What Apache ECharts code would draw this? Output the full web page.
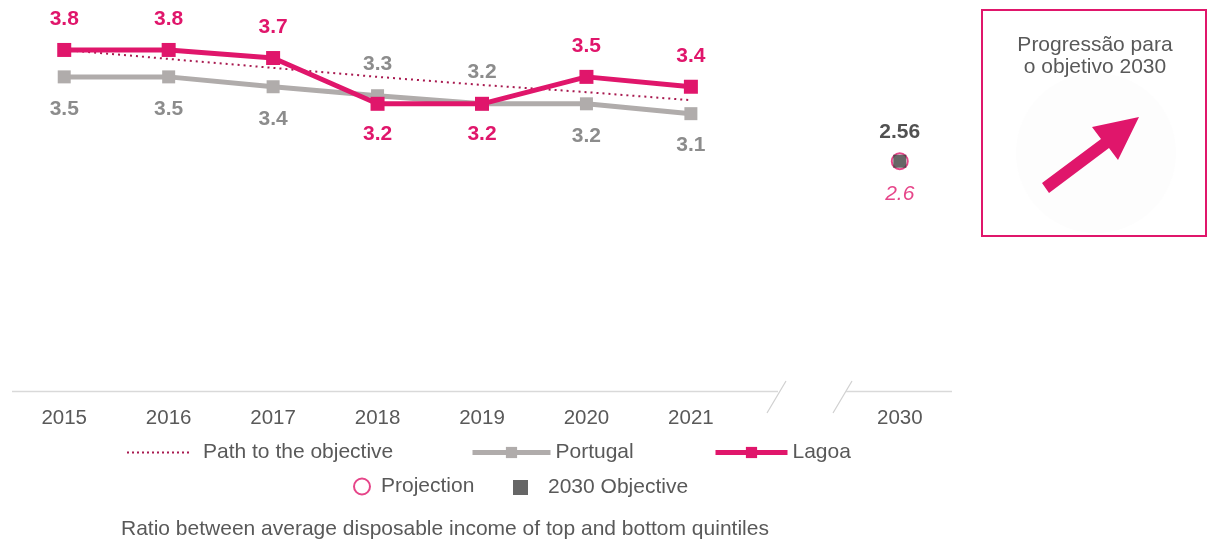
<!DOCTYPE html>
<html>
<head>
<meta charset="utf-8">
<script src="https://cdn.jsdelivr.net/npm/echarts@6/dist/echarts.min.js"></script>
<style>
html,body{margin:0;padding:0;background:#fff;}
#chart{width:1208px;height:545px;}
</style>
</head>
<body>
<div id="chart"></div>
<script>
// ---- data ----
const categories = ['2015','2016','2017','2018','2019','2020','2021','','2030'];
const pathToObjective = [3.80, 3.70, 3.60, 3.50, 3.41, 3.33, 3.24, null, null];
const portugal = [3.50, 3.50, 3.39, 3.29, 3.20, 3.20, 3.09, null, null];
const lagoa = [3.80, 3.80, 3.71, 3.20, 3.20, 3.50, 3.39, null, null];
const projection = [null, null, null, null, null, null, null, null, 2.56];
const objective2030 = [null, null, null, null, null, null, null, null, 2.56];
const caption = 'Ratio between average disposable income of top and bottom quintiles';
const boxTitle = ['Progressão para', 'o objetivo 2030'];

const PINK = '#e0166b';
const GRAY = '#b0acab';
const GRAYTXT = '#8c8c8c';
const TXT = '#595959';
const FONT = '"Liberation Sans", Arial, sans-serif';
const FS = 21;

// Lagoa label above when strictly higher; Portugal label above when higher or equal
function labelled(vals, other, abovePredicate) {
  return vals.map((v, i) => {
    if (v == null) return null;
    return { value: v, label: { position: abovePredicate(v, other[i]) ? 'top' : 'bottom' } };
  });
}

const chart = echarts.init(document.getElementById('chart'), null, { renderer: 'canvas' });

const legendText = { color: TXT, fontSize: FS, fontFamily: FONT };
const legendBase = { orient: 'horizontal', itemHeight: 14, selectedMode: false, padding: 0 };

const option = {
  animation: false,
  backgroundColor: '#fff',
  textStyle: { fontFamily: FONT },
  grid: { left: 12, right: 256, top: 32, bottom: 154, containLabel: false },
  xAxis: {
    type: 'category',
    data: categories,
    boundaryGap: true,
    axisLine: { show: false },
    axisTick: { show: false },
    axisLabel: { color: TXT, fontSize: 20.5, fontFamily: FONT, margin: 17 }
  },
  yAxis: { type: 'value', min: 0, max: 4, show: false, splitLine: { show: false } },
  legend: [
    Object.assign({}, legendBase, {
      data: ['Path to the objective'], left: 126, top: 442, itemWidth: 62,
      itemStyle: { color: 'rgba(0,0,0,0)', borderWidth: 0 },
      lineStyle: { width: 2, type: [2, 3], color: '#a8194f' },
      textStyle: Object.assign({}, legendText, { padding: [0, 0, 0, 9] })
    }),
    Object.assign({}, legendBase, {
      data: ['Portugal'], left: 470, top: 442, itemWidth: 78,
      lineStyle: { width: 5, color: GRAY },
      textStyle: legendText
    }),
    Object.assign({}, legendBase, {
      data: ['Lagoa'], left: 713, top: 442, itemWidth: 72,
      lineStyle: { width: 5, color: PINK },
      textStyle: legendText
    }),
    Object.assign({}, legendBase, {
      data: ['Projection'], left: 353, top: 476, itemWidth: 16, itemHeight: 16,
      textStyle: Object.assign({}, legendText, { padding: [0, 0, 0, 6] })
    }),
    Object.assign({}, legendBase, {
      data: ['2030 Objective'], left: 513, top: 477, itemWidth: 15, itemHeight: 15,
      textStyle: Object.assign({}, legendText, { padding: [0, 0, 0, 15] })
    })
  ],
  series: [
    {
      name: 'Path to the objective',
      type: 'line',
      data: pathToObjective,
      symbol: 'none',
      lineStyle: { color: '#a8194f', width: 2, type: [2, 4] },
      itemStyle: { color: '#a8194f' },
      z: 1
    },
    {
      name: 'Portugal',
      type: 'line',
      data: labelled(portugal, lagoa, (a, b) => a >= b),
      symbol: 'rect',
      symbolSize: 13,
      lineStyle: { color: GRAY, width: 5 },
      itemStyle: { color: GRAY },
      label: {
        show: true, distance: 15, color: GRAYTXT, fontSize: FS, fontWeight: 'bold', fontFamily: FONT,
        formatter: p => p.value.toFixed(1)
      },
      z: 2
    },
    {
      name: 'Lagoa',
      type: 'line',
      data: labelled(lagoa, portugal, (a, b) => a > b),
      symbol: 'rect',
      symbolSize: 14,
      lineStyle: { color: PINK, width: 5 },
      itemStyle: { color: PINK },
      label: {
        show: true, distance: 13, color: PINK, fontSize: FS, fontWeight: 'bold', fontFamily: FONT,
        formatter: p => p.value.toFixed(1)
      },
      z: 3
    },
    {
      name: 'Projection',
      type: 'scatter',
      data: projection,
      symbol: 'circle',
      symbolSize: 16,
      itemStyle: { color: '#fff', borderColor: PINK, borderWidth: 2 },
      label: {
        show: true, position: 'bottom', distance: 13, color: PINK, fontSize: FS, fontStyle: 'italic', fontFamily: FONT,
        formatter: p => p.value.toFixed(1)
      },
      z: 4
    },
    {
      name: '2030 Objective',
      type: 'scatter',
      data: objective2030,
      symbol: 'rect',
      symbolSize: 13,
      itemStyle: { color: '#404040' },
      label: {
        show: true, position: 'top', distance: 12, color: '#262626', fontSize: FS, fontWeight: 'bold', fontFamily: FONT,
        formatter: p => p.value.toFixed(2)
      },
      z: 5
    }
  ],
  graphic: [
    // broken x-axis line
    { type: 'line', shape: { x1: 12, y1: 391.5, x2: 778, y2: 391.5 }, style: { stroke: '#d9d9d9', lineWidth: 1.5 }, silent: true },
    { type: 'line', shape: { x1: 767, y1: 413, x2: 786, y2: 381 }, style: { stroke: '#d0d0d0', lineWidth: 1.2 }, silent: true },
    { type: 'line', shape: { x1: 833, y1: 413, x2: 852, y2: 381 }, style: { stroke: '#d0d0d0', lineWidth: 1.2 }, silent: true },
    { type: 'line', shape: { x1: 846, y1: 391.5, x2: 952, y2: 391.5 }, style: { stroke: '#d9d9d9', lineWidth: 1.5 }, silent: true },
    // caption
    { type: 'text', left: 121, top: 519, style: { text: caption, fill: TXT, font: FS + 'px ' + FONT }, silent: true },
    // progress box
    { type: 'rect', shape: { x: 982, y: 10, width: 224, height: 226 }, style: { fill: '#fff', stroke: PINK, lineWidth: 2 }, silent: true },
    { type: 'circle', shape: { cx: 1096, cy: 153, r: 80 }, style: { fill: '#fdfdfd' }, silent: true },
    { type: 'text', x: 1095, y: 45, style: { text: boxTitle[0], fill: TXT, font: FS + 'px ' + FONT, align: 'center', verticalAlign: 'middle' }, silent: true },
    { type: 'text', x: 1095, y: 67, style: { text: boxTitle[1], fill: TXT, font: FS + 'px ' + FONT, align: 'center', verticalAlign: 'middle' }, silent: true },
    { type: 'polygon', shape: { points: [[1042,183],[1101,139],[1092,127],[1139,117],[1118,160],[1109,148],[1049,193]] }, style: { fill: PINK }, silent: true }
  ]
};

chart.setOption(option);
</script>
</body>
</html>
